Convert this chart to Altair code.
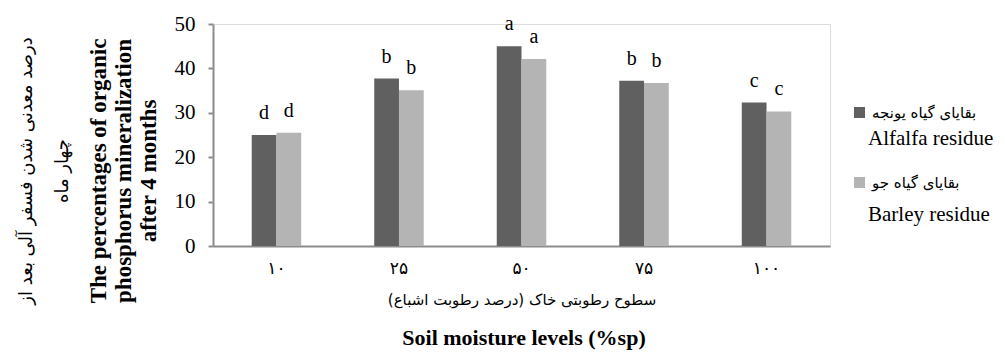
import altair as alt
import pandas as pd

levels = ['۱۰', '۲۵', '۵۰', '۷۵', '۱۰۰']
series = ['Alfalfa residue', 'Barley residue']
series_fa = ['بقایای گیاه یونجه', 'بقایای گیاه جو']
alfalfa = [25.0, 37.7, 45.0, 37.2, 32.3]
barley = [25.5, 35.1, 42.1, 36.7, 30.3]
alfalfa_letters = ['d', 'b', 'a', 'b', 'c']
barley_letters = ['d', 'b', 'a', 'b', 'c']

rows = []
for i, lv in enumerate(levels):
    rows.append({'level': lv, 'series': series[0], 'value': alfalfa[i], 'letter': alfalfa_letters[i]})
    rows.append({'level': lv, 'series': series[1], 'value': barley[i], 'letter': barley_letters[i]})
df = pd.DataFrame(rows)

SERIF = 'Liberation Serif'
PERSIAN = 'DejaVu Sans'
AXIS_GRAY = '#8c8c8c'

x_enc = alt.X('level:N', sort=levels, title=None,
              scale=alt.Scale(paddingInner=0.596, paddingOuter=0.316),
              axis=alt.Axis(labelAngle=0, ticks=False, labelFont=PERSIAN, labelFontSize=17,
                            labelPadding=14, domainColor=AXIS_GRAY, domainWidth=2,
                            labelColor='#000000'))
y_enc = alt.Y('value:Q', title=None,
              scale=alt.Scale(domain=[0, 50]),
              axis=alt.Axis(values=[0, 10, 20, 30, 40, 50], grid=False, tickSize=5,
                            tickColor=AXIS_GRAY, tickWidth=2, domainColor=AXIS_GRAY, domainWidth=2,
                            labelFont=SERIF, labelFontSize=21, labelPadding=13, labelColor='#000000'))

base = alt.Chart(df).encode(x=x_enc, xOffset=alt.XOffset('series:N', sort=series))

fa_expr = "datum.label == 'Alfalfa residue' ? 'بقایای گیاه یونجه' : 'بقایای گیاه جو'"

bars = base.mark_bar().encode(
    y=y_enc,
    color=alt.Color('series:N', sort=series,
                    scale=alt.Scale(domain=series, range=['#606060', '#b4b4b4']),
                    legend=alt.Legend(title=None, orient='none', legendX=639, legendY=81,
                                      symbolType='square', symbolSize=121, symbolStrokeWidth=0,
                                      labelFont=PERSIAN, labelFontSize=15, labelColor='#000000',
                                      rowPadding=54, labelLimit=200, labelOffset=5,
                                      labelExpr=fa_expr))
)

letters = base.mark_text(font=SERIF, fontSize=20, baseline='alphabetic', dy=-16, color='#000000').encode(
    y='value:Q', text='letter:N'
)

legend_en = alt.Chart(pd.DataFrame({'t': series, 'yy': [115, 191]})).mark_text(
    font=SERIF, fontSize=21, align='left', baseline='middle', color='#000000'
).encode(text='t:N', x=alt.value(655), y=alt.Y('yy:Q', scale=None))

ytitle_en = alt.Chart(pd.DataFrame({'t': ['The percentages of organic\nphosphorus  mineralization\nafter 4 months']})).mark_text(
    font=SERIF, fontSize=23, fontWeight='bold', angle=270, lineBreak='\n', lineHeight=25,
    align='center', baseline='middle', color='#000000'
).encode(text='t:N', x=alt.value(-114), y=alt.value(147))

ytitle_fa = alt.Chart(pd.DataFrame({'t': ['درصد معدنی شدن فسفر آلی بعد از\nچهار ماه']})).mark_text(
    font=PERSIAN, fontSize=18, angle=270, lineBreak='\n', lineHeight=36,
    align='center', baseline='middle', color='#000000'
).encode(text='t:N', x=alt.value(-186), y=alt.value(147))

xtitle_fa = alt.Chart(pd.DataFrame({'t': ['سطوح رطوبتی خاک (درصد رطوبت اشباع)']})).mark_text(
    font=PERSIAN, fontSize=15, align='center', baseline='middle', color='#000000'
).encode(text='t:N', x=alt.value(309), y=alt.value(276))

xtitle_en = alt.Chart(pd.DataFrame({'t': ['Soil moisture levels (%sp)']})).mark_text(
    font=SERIF, fontSize=22, fontWeight='bold', align='center', baseline='middle', color='#000000'
).encode(text='t:N', x=alt.value(311), y=alt.value(314))

chart = alt.layer(bars, letters, legend_en, ytitle_en, ytitle_fa, xtitle_fa, xtitle_en).properties(
    width=617, height=222,
    autosize=alt.AutoSizeParams(type='none'),
    padding={'left': 205, 'top': 16, 'right': 167, 'bottom': 106},
).configure_view(strokeWidth=0).configure(background='white')

chart.save('out.html', embed_options={'renderer': 'svg', 'actions': False})
